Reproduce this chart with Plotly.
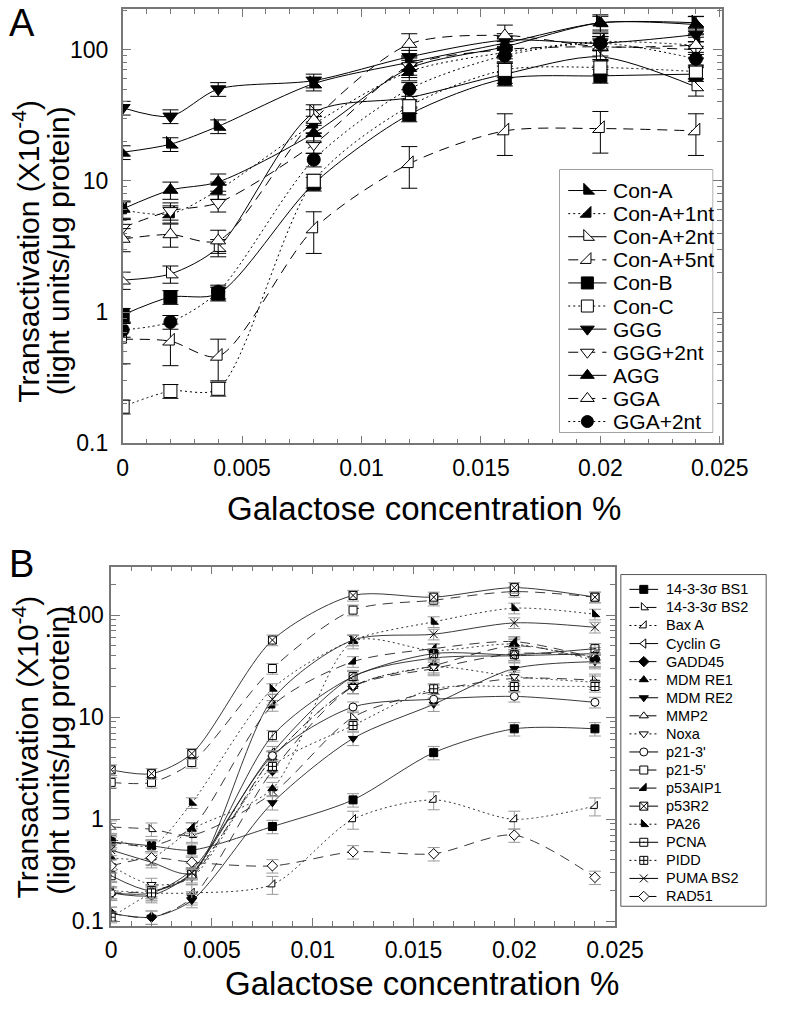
import plotly.graph_objects as go

# Galactose concentration (%) used in both panels
x_conc = [0, 0.002, 0.004, 0.008, 0.012, 0.016, 0.02, 0.024]

# ---- Panel A data (transactivation, x10^-4) ----
a_names = ["Con-A", "Con-A+1nt", "Con-A+2nt", "Con-A+5nt", "Con-B", "Con-C",
           "GGG", "GGG+2nt", "AGG", "GGA", "GGA+2nt"]
con_a = [16.5, 19, 26, 55, 80, 112, 160, 160]
con_a_1nt = [6, 5.6, 8.5, 27, 68, 95, 115, 108]
con_a_2nt = [1.75, 1.95, 3.1, 33, 43, 65, 88, 52]
con_a_5nt = [0.62, 0.6, 0.46, 4.3, 13.5, 24, 25, 24]
con_b = [0.95, 1.3, 1.38, 9.5, 32, 60, 63, 65]
con_c = [0.19, 0.25, 0.26, 10, 37, 70, 73, 68]
ggg = [36, 31, 50, 58, 88, 118, 112, 130]
ggg_2nt = [4.4, 5.9, 6.8, 19, 75, 100, 105, 100]
agg = [6.1, 8.5, 9.8, 23, 72, 105, 160, 155]
gga = [3.6, 3.9, 3.5, 29, 110, 128, 105, 108]
gga_2nt = [0.73, 0.84, 1.43, 14.5, 50, 90, 112, 85]
a_values = [con_a, con_a_1nt, con_a_2nt, con_a_5nt, con_b, con_c,
            ggg, ggg_2nt, agg, gga, gga_2nt]
a_err_pct = [12, 15, 15, 35, 12, 12, 12, 15, 15, 20, 12]

# ---- Panel B data ----
b_names = ["14-3-3σ BS1", "14-3-3σ BS2", "Bax A", "Cyclin G", "GADD45", "MDM RE1",
           "MDM RE2", "MMP2", "Noxa", "p21-3'", "p21-5'", "p53AIP1", "p53R2",
           "PA26", "PCNA", "PIDD", "PUMA BS2", "RAD51"]
bs1 = [0.6, 0.55, 0.5, 0.85, 1.55, 4.5, 7.7, 7.7]
bs2 = [0.84, 0.8, 0.7, 1.8, 10, 18, 24, 23]
bax_a = [0.2, 0.19, 0.19, 0.23, 1.0, 1.55, 1.0, 1.35]
cyclin_g = [0.19, 0.19, 0.32, 4.5, 25, 38, 40, 42]
gadd45 = [0.12, 0.11, 0.17, 3, 20, 32, 50, 37]
mdm_re1 = [0.42, 0.42, 0.8, 2.0, 55, 45, 52, 36]
mdm_re2 = [0.12, 0.11, 0.16, 1.45, 6.2, 13.4, 30, 35]
mmp2 = [0.19, 0.2, 0.28, 4, 20, 30, 42, 40]
noxa = [0.35, 0.23, 0.27, 4, 20, 31, 25, 22]
p21_3 = [0.19, 0.18, 0.3, 4.2, 12.6, 15, 16, 14]
p21_5 = [2.3, 2.3, 3.6, 30, 112, 140, 170, 150]
p53aip1 = [0.6, 0.55, 0.83, 13, 35, 47, 55, 38]
p53r2 = [3.05, 2.8, 4.4, 57, 156, 150, 186, 150]
pa26 = [0.65, 0.55, 1.45, 19, 57, 86, 117, 102]
pcna = [0.28, 0.2, 0.29, 6.6, 25, 42, 41, 47]
pidd = [0.11, 0.19, 0.29, 3.3, 8.3, 19, 20, 20]
puma_bs2 = [0.5, 0.38, 0.3, 15, 57, 65, 84, 76]
rad51 = [0.35, 0.42, 0.38, 0.35, 0.48, 0.46, 0.7, 0.27]
b_values = [bs1, bs2, bax_a, cyclin_g, gadd45, mdm_re1, mdm_re2, mmp2, noxa,
            p21_3, p21_5, p53aip1, p53r2, pa26, pcna, pidd, puma_bs2, rad51]
b_err_pct = [15, 15, 20, 15, 15, 15, 15, 15, 15, 12, 12, 12, 12, 12, 12, 12, 12, 15]

# ---- styles ----
SOLID = "solid"
DOT = "2px,3px"
DASH = "10px,7px"

a_styles = [  # symbol, fill, dash
    ("triangle-sw", "black", SOLID),
    ("triangle-se", "black", DOT),
    ("triangle-sw", "white", SOLID),
    ("triangle-se", "white", DASH),
    ("square", "black", SOLID),
    ("square", "white", DOT),
    ("triangle-down", "black", SOLID),
    ("triangle-down", "white", DASH),
    ("triangle-up", "black", SOLID),
    ("triangle-up", "white", DASH),
    ("circle", "black", DOT),
]
b_styles = [
    ("square", "black", SOLID),
    ("triangle-sw", "white", DASH),
    ("triangle-se", "white", DOT),
    ("triangle-left", "white", SOLID),
    ("diamond", "black", DASH),
    ("triangle-up", "black", DOT),
    ("triangle-down", "black", SOLID),
    ("triangle-up", "white", DASH),
    ("triangle-down", "white", DOT),
    ("circle", "white", SOLID),
    ("square", "white", DASH),
    ("triangle-se", "black", DASH),
    ("square-x", "white", SOLID),
    ("triangle-sw", "black", DOT),
    ("square-open-dot", "black", SOLID),
    ("square-cross", "white", DOT),
    ("x-thin-open", "black", SOLID),
    ("diamond", "white", DASH),
]

FONT = "Liberation Sans, Arial, sans-serif"
AXIS_GRAY = "#777777"
W, H = 799, 1016

fig = go.Figure()

for name, vals, err, (sym, fill, dash) in zip(a_names, a_values, a_err_pct, a_styles):
    fig.add_trace(go.Scatter(
        x=x_conc, y=vals, name=name, mode="lines+markers", showlegend=False,
        line=dict(color="black", width=1, dash=dash, shape="spline", smoothing=0.8),
        marker=dict(symbol=sym, size=13, color=fill, line=dict(color="black", width=1)),
        error_y=dict(type="percent", value=err, color="black", thickness=1, width=8),
        xaxis="x", yaxis="y"))

for name, vals, err, (sym, fill, dash) in zip(b_names, b_values, b_err_pct, b_styles):
    fig.add_trace(go.Scatter(
        x=x_conc, y=vals, name=name, mode="lines+markers", showlegend=False,
        line=dict(color="#222222", width=0.9, dash=dash, shape="spline", smoothing=0.8),
        marker=dict(symbol=sym, size=8, color=fill, line=dict(color="black", width=1)),
        error_y=dict(type="percent", value=err, color="#999999", thickness=1, width=6),
        xaxis="x2", yaxis="y2"))

# ---- hand-made legends (box in pixel units on hidden helper axes) ----
def legend_block(names, styles, box, row0, step, line_x, text_x, msize, fsize, xa, ya):
    x0, y0, x1, y1 = box
    fig.add_shape(type="rect", xref="paper", yref="paper", x0=x0 / W, x1=x1 / W,
                  y0=1 - y1 / H, y1=1 - y0 / H, line=dict(color="#555555", width=1),
                  fillcolor="rgba(0,0,0,0)", layer="below")
    anns = []
    for i, (name, (sym, fill, dash)) in enumerate(zip(names, styles)):
        ry = row0 + step * i
        fig.add_trace(go.Scatter(
            x=[line_x[0], line_x[1]], y=[ry, ry], mode="lines", showlegend=False,
            hoverinfo="skip", line=dict(color="black", width=1, dash=dash),
            xaxis=xa, yaxis=ya))
        fig.add_trace(go.Scatter(
            x=[(line_x[0] + line_x[1]) / 2], y=[ry], mode="markers", showlegend=False,
            hoverinfo="skip", cliponaxis=False,
            marker=dict(symbol=sym, size=msize, color=fill, line=dict(color="black", width=1)),
            xaxis=xa, yaxis=ya))
        anns.append(dict(text=name, x=text_x / W, y=1 - ry / H, xanchor="left", yanchor="middle",
                         font=dict(size=fsize)))
    return anns

def helper_axes(box):
    x0, y0, x1, y1 = box
    xa = dict(domain=[x0 / W, x1 / W], range=[x0, x1], visible=False, fixedrange=True)
    ya = dict(domain=[1 - y1 / H, 1 - y0 / H], range=[y1, y0], visible=False, fixedrange=True)
    return xa, ya

box_a = (579, 172, 739, 438)
box_b = (643, 582, 795, 918)

x_tickvals = [0, 0.005, 0.01, 0.015, 0.02, 0.025]
x_ticktext = ["0", "0.005", "0.01", "0.015", "0.02", "0.025"]
y_tickvals = [0.1, 1, 10, 100]
y_ticktext = ["0.1", "1", "10", "100"]

def x_axis(domain, rng, anchor):
    return dict(domain=domain, range=rng, anchor=anchor, tickvals=x_tickvals, ticktext=x_ticktext,
                ticks="inside", ticklen=8, tickcolor=AXIS_GRAY, showline=True, linecolor=AXIS_GRAY,
                linewidth=1.5, mirror="ticks", showgrid=False, zeroline=False,
                ticklabelstandoff=3,
                tickfont=dict(size=23, family=FONT, color="black"),
                minor=dict(dtick=0.001, ticks="inside", ticklen=5, tickcolor=AXIS_GRAY, showgrid=False))

def y_axis(domain, rng, anchor, standoff):
    return dict(domain=domain, range=rng, anchor=anchor, type="log", tickvals=y_tickvals,
                ticktext=y_ticktext, ticks="inside", ticklen=9, tickcolor=AXIS_GRAY, showline=True,
                linecolor=AXIS_GRAY, linewidth=1.5, mirror="ticks", showgrid=False, zeroline=False,
                ticklabelstandoff=standoff,
                tickfont=dict(size=23, family=FONT, color="black"),
                minor=dict(dtick="D1", ticks="inside", ticklen=5, tickcolor=AXIS_GRAY, showgrid=False))

xa3, ya3 = helper_axes(box_a)
xa4, ya4 = helper_axes(box_b)
fig.update_layout(
    width=W, height=H, margin=dict(l=0, r=0, t=0, b=0),
    paper_bgcolor="white", plot_bgcolor="white",
    font=dict(family=FONT, color="black"),
    xaxis=x_axis([122 / W, 749 / W], [0, 0.0251], "y"),
    yaxis=y_axis([1 - 449 / H, 1 - 9 / H], [-1, 2.31], "x", 8),
    xaxis2=x_axis([110 / W, 637 / W], [0, 0.025], "y2"),
    yaxis2=y_axis([1 - 938 / H, 1 - 574 / H], [-1.045, 2.475], "x2", 1),
    xaxis3=dict(xa3, anchor="y3"), yaxis3=dict(ya3, anchor="x3"),
    xaxis4=dict(xa4, anchor="y4"), yaxis4=dict(ya4, anchor="x4"),
    showlegend=False,
)

ann = []
ann += legend_block(a_names, a_styles, box_a, 193, 23.4, (588, 628), 633, 12, 21, "x3", "y3")
ann += legend_block(b_names, b_styles, box_b, 597, 18.3, (652, 682), 688, 8, 14.5, "x4", "y4")
ann += [
    dict(text="A", x=1 / W, y=1.0, xanchor="left", yanchor="top", font=dict(size=38)),
    dict(text="B", x=1 / W, y=1 - 548 / H, xanchor="left", yanchor="top", font=dict(size=38)),
    dict(text="Transactivation (X10<sup>-4</sup>)", x=21 / W, y=1 - 255 / H, textangle=-90,
         font=dict(size=30)),
    dict(text="(light units/μg protein)", x=55 / W, y=1 - 254 / H, textangle=-90,
         font=dict(size=30)),
    dict(text="Galactose concentration %", x=437 / W, y=1 - 515 / H, font=dict(size=33)),
    dict(text="Transactivation (X10<sup>-4</sup>)", x=21 / W, y=1 - 757 / H, textangle=-90,
         font=dict(size=30)),
    dict(text="(light units/μg protein)", x=55 / W, y=1 - 760 / H, textangle=-90,
         font=dict(size=30)),
    dict(text="Galactose concentration %", x=435 / W, y=1 - 996 / H, font=dict(size=33)),
]
for a in ann:
    a.update(xref="paper", yref="paper", showarrow=False)
    a.setdefault("xanchor", "center")
    a.setdefault("yanchor", "middle")
fig.update_layout(annotations=ann)

fig.write_html(
    "out.html",
    config={"displayModeBar": False},
    post_script=("document.body.style.margin='0';"
                 "document.body.style.overflow='hidden';"
                 "document.documentElement.style.overflow='hidden';"),
)
